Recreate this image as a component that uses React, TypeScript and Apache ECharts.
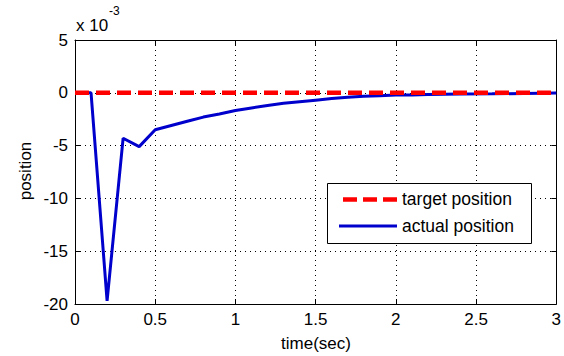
import React, { useEffect, useRef } from "react";
import * as echarts from "echarts";

// values in units of 1e-3
const timeSec = [0, 0.1, 0.2, 0.3, 0.4, 0.5, 0.6, 0.7, 0.8, 0.9, 1.0, 1.1, 1.2, 1.3, 1.4, 1.5, 1.6, 1.7, 1.8, 1.9, 2.0, 2.1, 2.2, 2.4, 2.6, 2.8, 3.0];
const actualPos = [0, 0, -19.7, -4.3, -5.1, -3.5, -3.1, -2.7, -2.3, -2.0, -1.68, -1.43, -1.2, -1.0, -0.85, -0.7, -0.55, -0.42, -0.33, -0.27, -0.22, -0.2, -0.17, -0.12, -0.1, -0.06, -0.03];
const targetTime = [0, 3];
const targetPos = [0, 0];
const seriesNames = ["target position", "actual position"];
const xTicks = [0, 0.5, 1, 1.5, 2, 2.5, 3];
const yTicks = [-20, -15, -10, -5, 0, 5];

const FONT = "Arial, 'Liberation Sans', Helvetica, sans-serif";

export default function App() {
  const ref = useRef<HTMLDivElement>(null);
  useEffect(() => {
    if (!ref.current) return;
    const chart = echarts.init(ref.current, null, { renderer: "svg" });
    const L = 75, T = 40, R = 7, B = 52;
    const axisCommon = {
      type: "value" as const,
      axisLine: { show: true, onZero: false, lineStyle: { color: "#000", width: 1 } },
      axisTick: { show: true, inside: true, length: 5, lineStyle: { color: "#000" } },
    };
    chart.setOption({
      animation: false,
      backgroundColor: "#fff",
      grid: { left: L, right: R, top: T, bottom: B, show: false },
      xAxis: [
        {
          ...axisCommon,
          min: xTicks[0],
          max: xTicks[xTicks.length - 1],
          interval: 0.5,
          position: "bottom",
          axisLabel: { color: "#000", fontSize: 17, fontFamily: FONT, margin: 7 },
          splitLine: { show: true, lineStyle: { color: "#000", type: [1, 4], width: 1 } },
        },
        {
          ...axisCommon,
          min: xTicks[0],
          max: xTicks[xTicks.length - 1],
          interval: 0.5,
          position: "top",
          axisLabel: { show: false },
          splitLine: { show: false },
        },
      ],
      yAxis: [
        {
          ...axisCommon,
          min: yTicks[0],
          max: yTicks[yTicks.length - 1],
          interval: 5,
          position: "left",
          axisLabel: { color: "#000", fontSize: 17, fontFamily: FONT, margin: 7 },
          splitLine: { show: true, lineStyle: { color: "#000", type: [1, 4], width: 1 } },
        },
        {
          ...axisCommon,
          min: yTicks[0],
          max: yTicks[yTicks.length - 1],
          interval: 5,
          position: "right",
          axisLabel: { show: false },
          splitLine: { show: false },
        },
      ],
      series: [
        {
          name: seriesNames[0],
          type: "line",
          data: targetTime.map((t, i) => [t, targetPos[i]]),
          showSymbol: false,
          lineStyle: { color: "#ff0000", width: 4.5, type: [14, 7] },
          z: 3,
        },
        {
          name: seriesNames[1],
          type: "line",
          data: timeSec.map((t, i) => [t, actualPos[i]]),
          showSymbol: false,
          lineStyle: { color: "#0000cc", width: 3 },
          z: 2,
        },
      ],
      graphic: [
        { type: "text", x: 76, y: 25, style: { text: "x 10", font: `17px ${FONT}`, fill: "#000", verticalAlign: "middle" } },
        { type: "text", x: 109, y: 11, style: { text: "-3", font: `12px ${FONT}`, fill: "#000", verticalAlign: "middle" } },
        { type: "text", x: 316, y: 343, style: { text: "time(sec)", font: `17px ${FONT}`, fill: "#000", align: "center", verticalAlign: "middle" } },
        { type: "text", x: 25, y: 171, rotation: Math.PI / 2, style: { text: "position", font: `17px ${FONT}`, fill: "#000", align: "center", verticalAlign: "middle" } },
        { type: "rect", shape: { x: 327.5, y: 183.5, width: 204, height: 60 }, style: { fill: "#fff", stroke: "#000", lineWidth: 1 }, z: 100 },
        { type: "line", shape: { x1: 343, y1: 199.5, x2: 397, y2: 199.5 }, style: { stroke: "#ff0000", lineWidth: 4.5, lineDash: [14, 6] }, z: 101 },
        { type: "line", shape: { x1: 339, y1: 226, x2: 397, y2: 226 }, style: { stroke: "#0000cc", lineWidth: 3 }, z: 101 },
        { type: "text", x: 402, y: 199, style: { text: seriesNames[0], font: `17.5px ${FONT}`, fill: "#000", verticalAlign: "middle" }, z: 101 },
        { type: "text", x: 402, y: 226, style: { text: seriesNames[1], font: `17.5px ${FONT}`, fill: "#000", verticalAlign: "middle" }, z: 101 },
      ],
    });
    return () => chart.dispose();
  }, []);
  return <div ref={ref} style={{ width: 564, height: 356, position: "fixed", left: 0, top: 0 }} />;
}
